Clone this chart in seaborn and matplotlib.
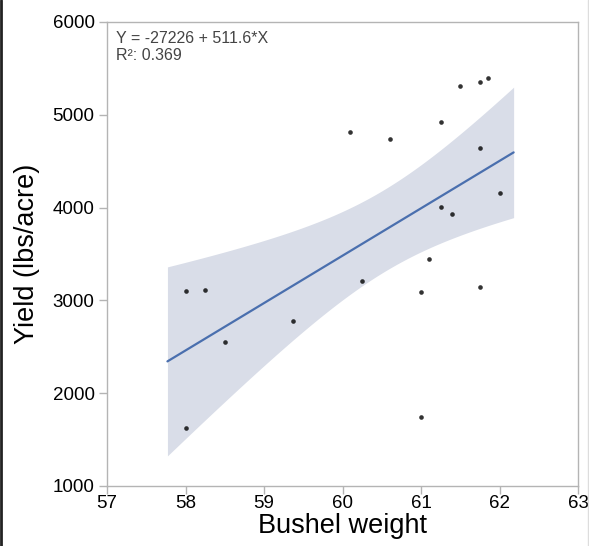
import matplotlib
matplotlib.use("Agg")
import matplotlib.pyplot as plt
import seaborn as sns
import numpy as np
import pandas as pd
from matplotlib.lines import Line2D

# ---- data ----
bushel_weight = [58.0, 58.25, 58.5, 58.0, 59.375, 60.25, 60.1, 60.6, 61.0, 61.0,
                 61.1, 61.25, 61.25, 61.4, 61.5, 61.75, 61.85, 61.75, 62.0, 61.75]
yield_lbs = [3100, 3110, 2550, 1625, 2775, 3205, 4815, 4740, 3095, 1740,
             3450, 4925, 4010, 3935, 5310, 5355, 5400, 4645, 4160, 3140]
x_ticks = [57, 58, 59, 60, 61, 62, 63]
y_ticks = [1000, 2000, 3000, 4000, 5000, 6000]
fit_range = (57.77, 62.18)
equation_text = "Y = -27226 + 511.6*X"
r2_text = "R²: 0.369"

df = pd.DataFrame({"Bushel weight": bushel_weight, "Yield": yield_lbs})

sns.set_style("white")
plt.rcParams["font.family"] = ["Liberation Sans", "DejaVu Sans"]

fig = plt.figure(figsize=(5.89, 5.46), dpi=100)
ax = fig.add_axes([107 / 589, 1 - 486 / 546, 471 / 589, 464 / 546])

line_color = "#4a6fae"
ax.set_xlim(*fit_range)
sns.regplot(data=df, x="Bushel weight", y="Yield", ax=ax, truncate=False,
            ci=None,
            scatter_kws=dict(s=11, color="black", linewidths=0, zorder=3),
            line_kws=dict(color=line_color, lw=1.6, zorder=2))

# analytic 95% confidence band of the fitted mean
xv = np.asarray(bushel_weight, float)
yv = np.asarray(yield_lbs, float)
n = len(xv)
b1, b0 = np.polyfit(xv, yv, 1)
resid = yv - (b0 + b1 * xv)
s_err = np.sqrt(np.sum(resid ** 2) / (n - 2))
sxx = np.sum((xv - xv.mean()) ** 2)
t_crit = 2.1009  # t(0.975, df=18)
grid = np.linspace(fit_range[0], fit_range[1], 200)
pred = b0 + b1 * grid
half = t_crit * s_err * np.sqrt(1.0 / n + (grid - xv.mean()) ** 2 / sxx)
ax.fill_between(grid, pred - half, pred + half, color="#d9dde8", lw=0, zorder=1)

ax.set_xlim(x_ticks[0], x_ticks[-1])
ax.set_ylim(y_ticks[0], y_ticks[-1])
ax.set_xticks(x_ticks)
ax.set_yticks(y_ticks)

for s in ax.spines.values():
    s.set_visible(True)
    s.set_color("#b4b4b4")
    s.set_linewidth(1.0)

ax.tick_params(axis="both", which="major", direction="out", length=5.5, width=1.0,
               color="#b4b4b4", labelsize=13.5, labelcolor="black",
               bottom=True, left=True, top=False, right=False)
ax.tick_params(axis="x", pad=1.0)
ax.tick_params(axis="y", pad=3.5)

ax.set_xlabel("Bushel weight", fontsize=19.5, color="black", labelpad=1)
ax.set_ylabel("Yield (lbs/acre)", fontsize=19.5, color="black", labelpad=9)

ax.text(0.02, 0.98, equation_text + "\n" + r2_text, transform=ax.transAxes,
        ha="left", va="top", fontsize=11.5, color="#444444", linespacing=1.12)

# screenshot edge lines
fig.add_artist(Line2D([0.002, 0.002], [0, 1], transform=fig.transFigure,
                      color="#222222", lw=2))
fig.add_artist(Line2D([0.998, 0.998], [0, 1], transform=fig.transFigure,
                      color="#dddddd", lw=1))

fig.savefig("out.png", dpi=100)
